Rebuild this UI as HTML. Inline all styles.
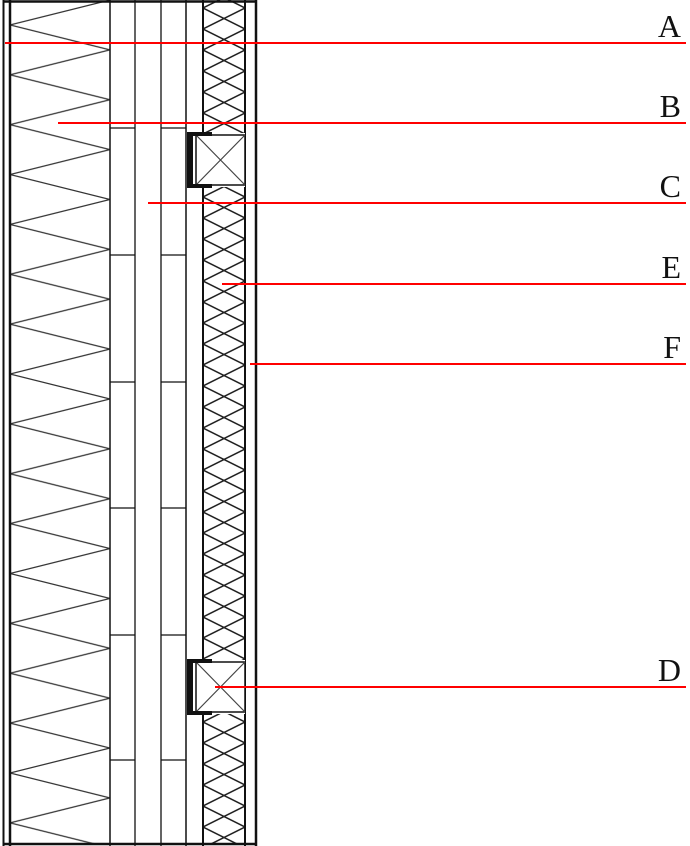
<!DOCTYPE html>
<html><head><style>body{margin:0;background:#fff}svg{display:block}</style></head><body>
<svg width="690" height="846" viewBox="0 0 690 846" xmlns="http://www.w3.org/2000/svg">
<defs>
<pattern id="zz" x="10" y="0" width="100" height="49.87" patternUnits="userSpaceOnUse">
<path d="M0 24.93 L100 0 M0 24.93 L100 49.87" stroke="#333" stroke-width="1.3" fill="none"/>
</pattern>
<pattern id="xx" x="203" y="8" width="42" height="21" patternUnits="userSpaceOnUse">
<path d="M0 0 L42 21 M42 0 L0 21" stroke="#222" stroke-width="1.5" fill="none"/>
</pattern>
</defs>
<rect x="10" y="0" width="100" height="843" fill="url(#zz)"/>
<rect x="203" y="0" width="42" height="843" fill="url(#xx)"/>
<g stroke="#111" fill="none">
<line x1="3.5" y1="0" x2="3.5" y2="846" stroke-width="2"/>
<line x1="10" y1="0" x2="10" y2="846" stroke-width="2.5"/>
<line x1="110" y1="0" x2="110" y2="846" stroke-width="1.5"/>
<line x1="135" y1="0" x2="135" y2="846" stroke-width="1.3"/>
<line x1="161" y1="0" x2="161" y2="846" stroke-width="1.3"/>
<line x1="186" y1="0" x2="186" y2="846" stroke-width="1.5"/>
<line x1="203" y1="0" x2="203" y2="846" stroke-width="2"/>
<line x1="245" y1="0" x2="245" y2="846" stroke-width="2"/>
<line x1="256" y1="0" x2="256" y2="846" stroke-width="2.5"/>
<line x1="3" y1="1.5" x2="257" y2="1.5" stroke-width="2.5"/>
<line x1="3" y1="844" x2="257" y2="844" stroke-width="2.5"/>
<path d="M110 128H135M161 128H186M110 255H135M161 255H186M110 382H135M161 382H186M110 508H135M161 508H186M110 635H135M161 635H186M110 760H135M161 760H186" stroke-width="1.2"/>
</g>
<g>
<rect x="187" y="133" width="58" height="54" fill="#fff"/>
<rect x="196" y="135" width="49" height="50" fill="none" stroke="#111" stroke-width="1.5"/>
<path d="M196 135L245 185M245 135L196 185" stroke="#444" stroke-width="1.2"/>
<rect x="187" y="133" width="6" height="54" fill="#111"/>
<rect x="187" y="132" width="25" height="4" fill="#111"/>
<rect x="187" y="184" width="25" height="4" fill="#111"/>
<rect x="187" y="660" width="58" height="54" fill="#fff"/>
<rect x="196" y="662" width="49" height="50" fill="none" stroke="#111" stroke-width="1.5"/>
<path d="M196 662L245 712M245 662L196 712" stroke="#444" stroke-width="1.2"/>
<rect x="187" y="660" width="6" height="54" fill="#111"/>
<rect x="187" y="659" width="25" height="4" fill="#111"/>
<rect x="187" y="711" width="25" height="4" fill="#111"/>
</g>
<g stroke="#f00" stroke-width="2">
<line x1="5" y1="43" x2="686" y2="43"/>
<line x1="58" y1="123" x2="686" y2="123"/>
<line x1="148" y1="203" x2="686" y2="203"/>
<line x1="222" y1="284" x2="686" y2="284"/>
<line x1="250" y1="364" x2="686" y2="364"/>
<line x1="215" y1="687" x2="686" y2="687"/>
</g>
<g font-family="Liberation Serif, serif" font-size="32" fill="#111" text-anchor="end">
<text x="681" y="37">A</text>
<text x="681" y="117">B</text>
<text x="681" y="197">C</text>
<text x="681" y="278">E</text>
<text x="681" y="358">F</text>
<text x="681" y="681">D</text>
</g>
</svg>
</body></html>
